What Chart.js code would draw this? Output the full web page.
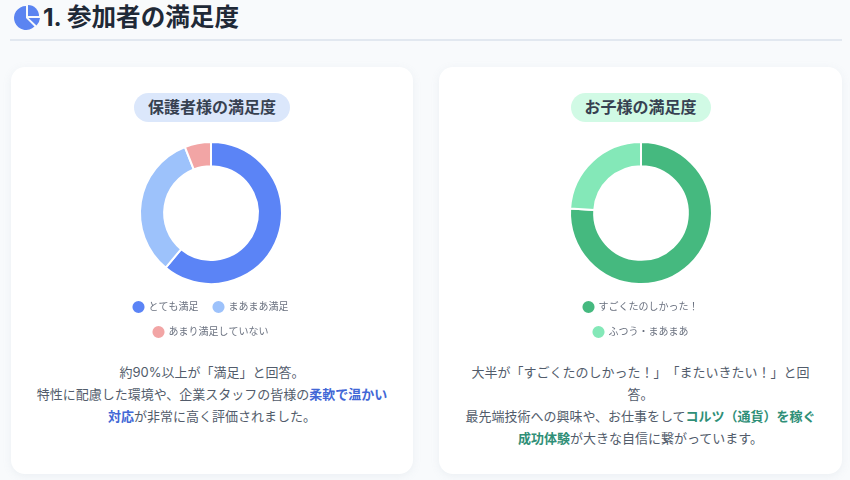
<!DOCTYPE html>
<html lang="ja">
<head>
<meta charset="utf-8">
<title>1. 参加者の満足度</title>
<script src="https://cdn.jsdelivr.net/npm/chart.js@4"></script>
<style>
html, body { margin: 0; padding: 0; }
body {
    width: 850px; height: 480px; overflow: hidden; position: relative;
    background: #f8fafc; color: #1f2937;
    font-family: "Inter", "Noto Sans CJK JP", sans-serif;
    text-spacing-trim: space-all;
}
.head {
    position: absolute; left: 10px; top: 0; width: 832px; height: 39px;
    border-bottom: 2px solid #e2e8f0;
}
.head svg { position: absolute; left: 4px; top: 4px; width: 26px; height: 26px; }
.head h1 {
    position: absolute; left: 33px; top: 0; margin: 0; line-height: 35px;
    font-size: 24.6px; font-weight: 700; color: #1f2937; white-space: nowrap;
}
.card {
    position: absolute; top: 67px; height: 407px; width: 402px;
    background: #fff; border-radius: 14px;
    box-shadow: 0 2px 8px rgba(148, 163, 184, 0.12);
}
#cardParent { left: 11px; }
#cardChild { left: 439px; width: 403px; }
.pill {
    position: absolute; top: 26px; left: 50%; transform: translateX(-50%);
    height: 29px; line-height: 28px; padding: 0 14px; border-radius: 15px;
    font-size: 16px; font-weight: 700; color: #374151; white-space: nowrap;
}
#cardParent .pill { background: #dbe7fb; }
#cardChild .pill { background: #d1fae5; }
.box { position: absolute; top: 72px; width: 220px; height: 208px; }
#cardParent .box { left: 90px; }
#cardChild .box { left: 92px; }
.note {
    position: absolute; left: 24px; right: 24px; top: 294px; margin: 0;
    font-size: 13px; line-height: 22px; text-align: center; color: #525c6b;
}
#cardParent .note b { color: #4267d6; }
#cardChild .note b { color: #2f8f77; }
</style>
</head>
<body>
<div class="head">
    <svg viewBox="0 0 26 26">
        <path d="M12 2 A12 12 0 1 0 20.5 22.5 L12 14 Z" fill="#5b84f1"/>
        <path d="M14 1 A11 11 0 0 1 25 12 L14 12 Z" fill="#5b84f1"/>
        <path d="M14.5 14 L26 14 A12 12 0 0 1 22.5 21.5 Z" fill="#5b84f1"/>
    </svg>
    <h1>1. 参加者の満足度</h1>
</div>

<div class="card" id="cardParent">
    <div class="pill">保護者様の満足度</div>
    <div class="box"><canvas id="parentChart"></canvas></div>
    <p class="note">約90%以上が「満足」と回答。<br>特性に配慮した環境や、企業スタッフの皆様の<b>柔軟で温かい対応</b>が非常に高く評価されました。</p>
</div>

<div class="card" id="cardChild">
    <div class="pill">お子様の満足度</div>
    <div class="box"><canvas id="childChart"></canvas></div>
    <p class="note">大半が「すごくたのしかった！」「またいきたい！」と回答。<br>最先端技術への興味や、お仕事をして<b>コルツ（通貨）を稼ぐ成功体験</b>が大きな自信に繋がっています。</p>
</div>

<script>
var parentLabels = ["とても満足", "まあまあ満足", "あまり満足していない"];
var parentValues = [61, 33, 6];
var parentColors = ["#5b84f6", "#9dc2fb", "#f2a5a5"];

var childLabels = ["すごくたのしかった！", "ふつう・まあまあ"];
var childValues = [76, 24];
var childColors = ["#45b97f", "#84e8b8"];

// Function to draw one satisfaction doughnut
function makeDoughnut(canvasId, labels, values, colors) {
    new Chart(document.getElementById(canvasId), {
        type: 'doughnut',
        data: {
            labels: labels,
            datasets: [{
                data: values,
                backgroundColor: colors,
                borderColor: '#ffffff',
                borderWidth: 2
            }]
        },
        options: {
            responsive: true,
            maintainAspectRatio: false,
            animation: false,
            cutout: '66%',
            radius: 71,
            plugins: {
                tooltip: { enabled: false },
                legend: {
                    position: 'bottom',
                    labels: {
                        usePointStyle: true,
                        pointStyle: 'circle',
                        boxWidth: 12,
                        boxHeight: 12,
                        padding: 15,
                        color: '#6b7280',
                        font: { size: 10, family: '"Inter", "Noto Sans CJK JP", sans-serif' }
                    }
                }
            }
        }
    });
}

makeDoughnut('parentChart', parentLabels, parentValues, parentColors);
makeDoughnut('childChart', childLabels, childValues, childColors);
</script>
</body>
</html>
